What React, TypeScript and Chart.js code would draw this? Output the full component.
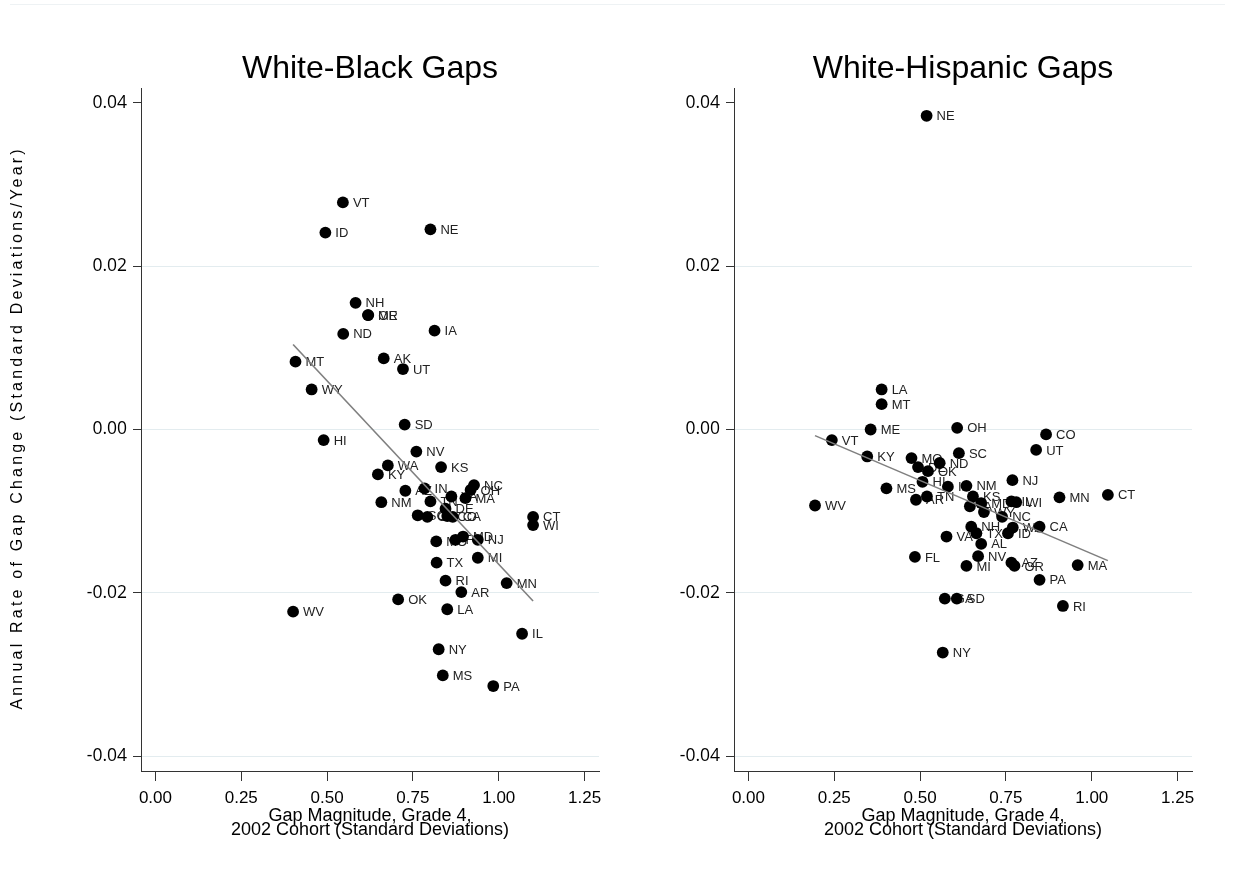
import React, { useEffect, useRef } from "react";
import { Chart, registerables } from "chart.js";
Chart.register(...registerables);

// ---------- White-Black panel ----------
const bwStates = ["VT","ID","NE","NH","ME","OR","ND","IA","MT","AK","UT","WY","SD","HI","NV","WA","KY","KS","IN","AZ","NC","OH","MA","VA","NM","TN","DE","SC","GA","CO","CA","CT","WI","MO","FL","MD","NJ","MI","TX","RI","MN","AR","OK","WV","LA","IL","NY","MS","PA"];
const bwGap = [0.546,0.495,0.801,0.583,0.619,0.620,0.547,0.813,0.408,0.665,0.721,0.455,0.726,0.490,0.760,0.677,0.648,0.832,0.784,0.728,0.928,0.918,0.903,0.862,0.658,0.801,0.845,0.764,0.792,0.850,0.866,1.100,1.100,0.818,0.874,0.896,0.939,0.939,0.819,0.845,1.023,0.891,0.707,0.401,0.850,1.068,0.825,0.837,0.984];
const bwChange = [0.0278,0.0241,0.0245,0.0155,0.0140,0.0140,0.0117,0.0121,0.0083,0.0087,0.0074,0.0049,0.0006,-0.0013,-0.0027,-0.0044,-0.0055,-0.0046,-0.0072,-0.0075,-0.0068,-0.0074,-0.0084,-0.0082,-0.0089,-0.0088,-0.0097,-0.0105,-0.0107,-0.0106,-0.0107,-0.0107,-0.0117,-0.0137,-0.0135,-0.0131,-0.0135,-0.0157,-0.0163,-0.0185,-0.0188,-0.0199,-0.0208,-0.0223,-0.0220,-0.0250,-0.0269,-0.0301,-0.0314];
const bwFitX = [0.401, 1.100];
const bwFitY = [0.0104, -0.0210];

// ---------- White-Hispanic panel ----------
const whStates = ["NE","LA","MT","ME","OH","CO","UT","VT","KY","SC","MO","DE","ND","OK","HI","MS","AR","TN","IN","NM","KS","IA","MD","WY","NJ","IL","WI","MN","CT","WV","NC","CA","WA","ID","NH","TX","VA","AL","FL","NV","MI","AZ","OR","PA","MA","RI","GA","SD","NY"];
const whGap = [0.519,0.388,0.388,0.356,0.608,0.867,0.838,0.243,0.346,0.613,0.475,0.494,0.557,0.523,0.507,0.402,0.488,0.520,0.581,0.635,0.654,0.645,0.678,0.686,0.769,0.766,0.780,0.906,1.047,0.194,0.739,0.848,0.770,0.756,0.649,0.664,0.577,0.678,0.485,0.669,0.635,0.766,0.775,0.848,0.959,0.916,0.572,0.607,0.566];
const whChange = [0.0384,0.0049,0.0031,0.0000,0.0002,-0.0006,-0.0025,-0.0013,-0.0033,-0.0029,-0.0035,-0.0046,-0.0041,-0.0051,-0.0064,-0.0072,-0.0086,-0.0082,-0.0070,-0.0069,-0.0082,-0.0094,-0.0090,-0.0101,-0.0062,-0.0088,-0.0089,-0.0083,-0.0080,-0.0093,-0.0107,-0.0119,-0.0120,-0.0127,-0.0119,-0.0127,-0.0131,-0.0140,-0.0156,-0.0155,-0.0167,-0.0163,-0.0167,-0.0184,-0.0166,-0.0216,-0.0207,-0.0207,-0.0273];
const whFitX = [0.194, 1.047];
const whFitY = [-0.00075, -0.01605];

const xTicks = [0, 0.25, 0.5, 0.75, 1.0, 1.25];
const yTicks = [-0.04, -0.02, 0, 0.02, 0.04];
const xTitle = ["Gap Magnitude, Grade 4,", "2002 Cohort (Standard Deviations)"];
const yTitle = "Annual Rate of Gap Change (Standard Deviations/Year)";

const SANS = "'Liberation Sans', Arial, sans-serif";

type PanelProps = {
  title: string;
  states: string[];
  gap: number[];
  change: number[];
  fitX: number[];
  fitY: number[];
  showYTitle: boolean;
  left: number;
  width: number;
  yAxisWidth: number;
  rightPad: number;
};

function Panel(p: PanelProps) {
  const ref = useRef<HTMLCanvasElement | null>(null);
  useEffect(() => {
    if (!ref.current) return;
    const textPlugin = {
      id: "panelTexts",
      beforeDatasetsDraw(chart: any) {
        const meta = chart.getDatasetMeta(1);
        const ctx = chart.ctx;
        ctx.save();
        ctx.font = `13px ${SANS}`;
        ctx.fillStyle = "#222";
        ctx.textBaseline = "middle";
        ctx.textAlign = "left";
        meta.data.forEach((el: any, i: number) => {
          ctx.fillText(p.states[i], el.x + 10, el.y + 1);
        });
        ctx.restore();
      },
      afterDraw(chart: any) {
        const ctx = chart.ctx;
        const ca = chart.chartArea;
        ctx.save();
        ctx.fillStyle = "#000";
        ctx.font = `32px ${SANS}`;
        ctx.textAlign = "center";
        ctx.textBaseline = "alphabetic";
        ctx.fillText(p.title, (ca.left + ca.right) / 2, 77.5);
        if (p.showYTitle) {
          ctx.font = `16px ${SANS}`;
          const natural = ctx.measureText(yTitle).width;
          const target = 560;
          const n = yTitle.length;
          const ls = Math.max(0, (target - natural) / (n - 1));
          (ctx as any).letterSpacing = `${ls.toFixed(2)}px`;
          ctx.translate(18, (ca.top + ca.bottom) / 2);
          ctx.rotate(-Math.PI / 2);
          ctx.textBaseline = "middle";
          ctx.textAlign = "left";
          const w = ctx.measureText(yTitle).width;
          ctx.fillText(yTitle, -w / 2 + ls / 2, 0);
        }
        ctx.restore();
      },
    };
    const chart = new Chart(ref.current, {
      type: "scatter",
      data: {
        datasets: [
          {
            type: "line",
            data: p.fitX.map((x, i) => ({ x, y: p.fitY[i] })),
            borderColor: "#7f7f7f",
            borderWidth: 1.6,
            pointRadius: 0,
            fill: false,
          } as any,
          {
            data: p.gap.map((x, i) => ({ x, y: p.change[i] })),
            backgroundColor: "#000",
            borderWidth: 0,
            pointRadius: 5.9,
            pointHoverRadius: 5.9,
          },
        ],
      },
      options: {
        animation: false,
        responsive: false,
        maintainAspectRatio: false,
        events: [],
        layout: { padding: { left: 0, right: p.rightPad, top: 88, bottom: 0 } },
        plugins: {
          legend: { display: false },
          tooltip: { enabled: false },
          title: { display: false },
        },
        scales: {
          x: {
            type: "linear",
            min: -0.042,
            max: 1.292,
            afterBuildTicks: (s: any) => {
              s.ticks = xTicks.map((v) => ({ value: v }));
            },
            afterFit: (s: any) => {
              s.height = 115;
            },
            ticks: {
              callback: (v: any) => Number(v).toFixed(2),
              color: "#000",
              font: { family: SANS, size: 17 },
              padding: 7,
              maxRotation: 0,
              autoSkip: false,
            },
            grid: {
              drawOnChartArea: false,
              drawTicks: true,
              tickLength: 10,
              tickColor: "#333",
              tickWidth: 1,
            },
            border: { display: true, color: "#333", width: 1 },
            title: {
              display: true,
              text: xTitle,
              color: "#000",
              font: { family: SANS, size: 18, lineHeight: 0.81 },
              padding: { top: 0, bottom: 48.5 },
            },
          },
          y: {
            type: "linear",
            min: -0.0418,
            max: 0.0418,
            afterBuildTicks: (s: any) => {
              s.ticks = yTicks.map((v) => ({ value: v }));
            },
            afterFit: (s: any) => {
              s.width = p.yAxisWidth;
            },
            ticks: {
              callback: (v: any) => Number(v).toFixed(2),
              color: "#000",
              font: { family: "'Open Sans', sans-serif", size: 17.5 },
              padding: 6,
              autoSkip: false,
            },
            grid: {
              color: (c: any) =>
                c.tick && Math.abs(c.tick.value - 0.04) < 1e-9 ? "rgba(0,0,0,0)" : "#e3ecef",
              lineWidth: 1,
              drawTicks: true,
              tickLength: 8,
              tickColor: "#333",
              tickWidth: 1,
            },
            border: { display: true, color: "#333", width: 1 },
            title: { display: false },
          },
        },
      },
      plugins: [textPlugin],
    } as any);
    return () => chart.destroy();
  }, []);
  return (
    <canvas
      ref={ref}
      width={p.width}
      height={886}
      style={{ position: "absolute", left: p.left, top: 0, width: p.width, height: 886 }}
    />
  );
}

export default function App() {
  return (
    <div style={{ position: "absolute", left: 0, top: 0, width: 1235, height: 886, background: "#fff" }}>
      <div style={{ position: "absolute", left: 10, top: 4, width: 1215, height: 1, background: "#eef2f4" }} />
      <Panel
        title="White-Black Gaps"
        states={bwStates}
        gap={bwGap}
        change={bwChange}
        fitX={bwFitX}
        fitY={bwFitY}
        showYTitle={true}
        left={0}
        width={617}
        yAxisWidth={141}
        rightPad={18}
      />
      <Panel
        title="White-Hispanic Gaps"
        states={whStates}
        gap={whGap}
        change={whChange}
        fitX={whFitX}
        fitY={whFitY}
        showYTitle={false}
        left={617}
        width={618}
        yAxisWidth={117}
        rightPad={43}
      />
    </div>
  );
}
